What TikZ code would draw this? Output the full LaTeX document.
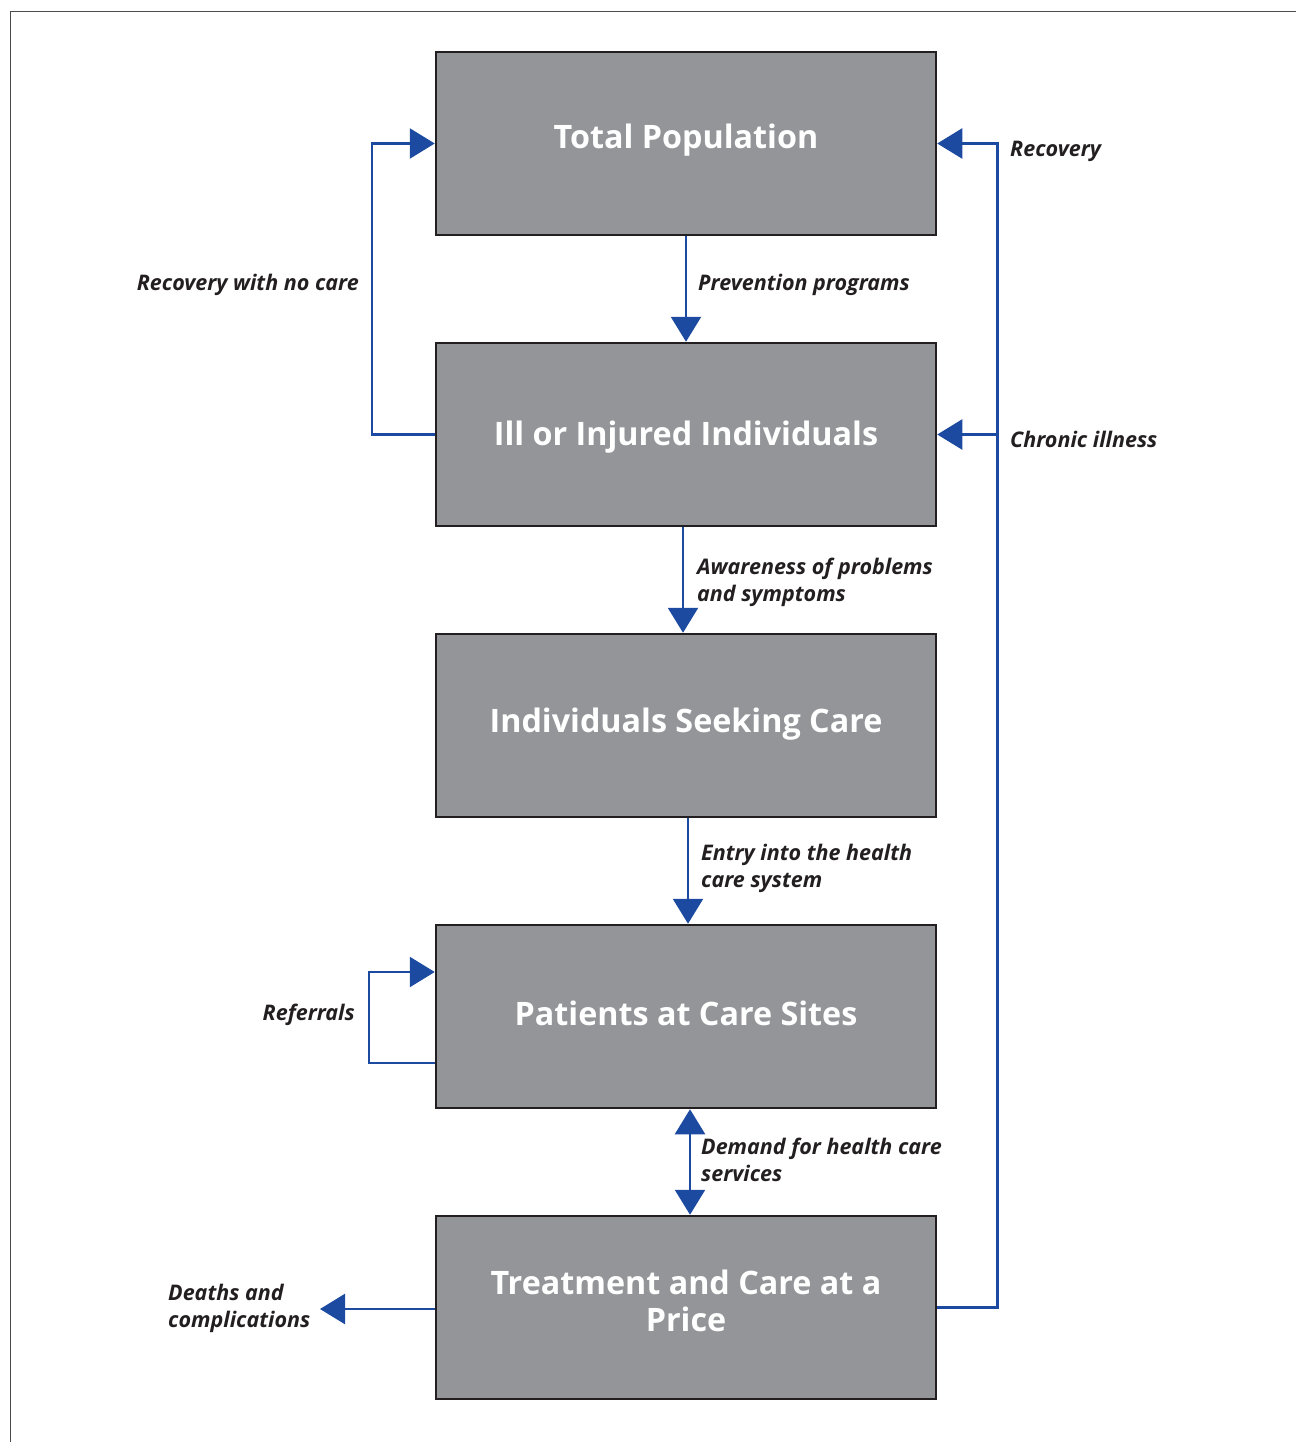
\documentclass[tikz,border=0pt]{standalone}
\usepackage{fontspec}
\setmainfont{Open Sans}
\usetikzlibrary{arrows.meta}
\definecolor{boxgray}{HTML}{939598}
\definecolor{boxline}{HTML}{231F20}
\definecolor{flowblue}{HTML}{1C4AA0}
\begin{document}
\begin{tikzpicture}[x=1pt, y=-1pt,
    stage/.style={draw=boxline, line width=2.5pt, fill=boxgray, text=white,
      minimum width=500pt, minimum height=183pt, align=center, text depth=14pt,
      font=\fontsize{32.3}{37}\selectfont\bfseries},
    flow/.style={draw=flowblue, line width=2.5pt,
      -{Triangle[length=25pt, width=30pt]}},
    flowboth/.style={flow, {Triangle[length=25pt, width=30pt]}-{Triangle[length=25pt, width=30pt]}},
    lbl/.style={text=boxline, align=left, inner sep=0pt,
      font=\fontsize{21.5}{27}\selectfont\bfseries\itshape}]
    \useasboundingbox (0,0) rectangle (1296,1442);
    % Frame
    \draw[gray!60!black, line width=1pt] (10,1442) -- (10,12) -- (1296,12);

    % Stages
    \node[stage] (tot)   at (686,143.5)  {Total Population};
    \node[stage, text depth=2pt] (ill) at (686,434.5) {Ill or Injured Individuals};
    \node[stage, text depth=10pt] (seek) at (686,725.5) {Individuals Seeking Care};
    \node[stage, text depth=7pt] (pat) at (686,1016.5) {Patients at Care Sites};
    \node[stage] (treat) at (686,1307.5) {Treatment and Care at a\\Price};

    % Labels
    \node[lbl, anchor=west] (lprev)  at (698,285)  {Prevention programs};
    \node[lbl, anchor=west] (laware) at (697,582)  {Awareness of problems\\and symptoms};
    \node[lbl, anchor=west] (lentry) at (701,868)  {Entry into the health\\care system};
    \node[lbl, anchor=west] (ldem)   at (701,1160) {Demand for health care\\services};
    \node[lbl, anchor=west] (lrec)   at (1010,151) {Recovery};
    \node[lbl, anchor=west] (lchron) at (1010,439) {Chronic illness};
    \node[lbl, anchor=east] (lnocare) at (359,285) {Recovery with no care};
    \node[lbl, anchor=east] (lref)   at (355,1015) {Referrals};
    \node[lbl, anchor=west] (ldeath) at (168,1308) {Deaths and\\complications};
    \coordinate (deathtip) at (320,1309);

    % Main flow
    \draw[flow] (tot.south) -- (ill.north);
    \draw[flow] ([xshift=-3pt]ill.south) -- ([xshift=-3pt]seek.north);
    \draw[flow] ([xshift=2pt]seek.south) -- ([xshift=2pt]pat.north);
    \draw[flowboth] ([xshift=4pt]pat.south) -- ([xshift=4pt]treat.north);

    % Loops
    \draw[flow] (ill.west) -- ++(-63,0) |- (tot.west);
    \draw[flow] (treat.east) -| ([xshift=60pt]tot.east) -- (tot.east);
    \draw[flow] ([xshift=60pt]ill.east) -- (ill.east);
    \draw[flow] ([yshift=-46.5pt]pat.west) -- ++(-66,0) |- ([yshift=44.5pt]pat.west);
    \draw[flow] ([yshift=-1.5pt]treat.west) -- (deathtip);
\end{tikzpicture}
\end{document}
